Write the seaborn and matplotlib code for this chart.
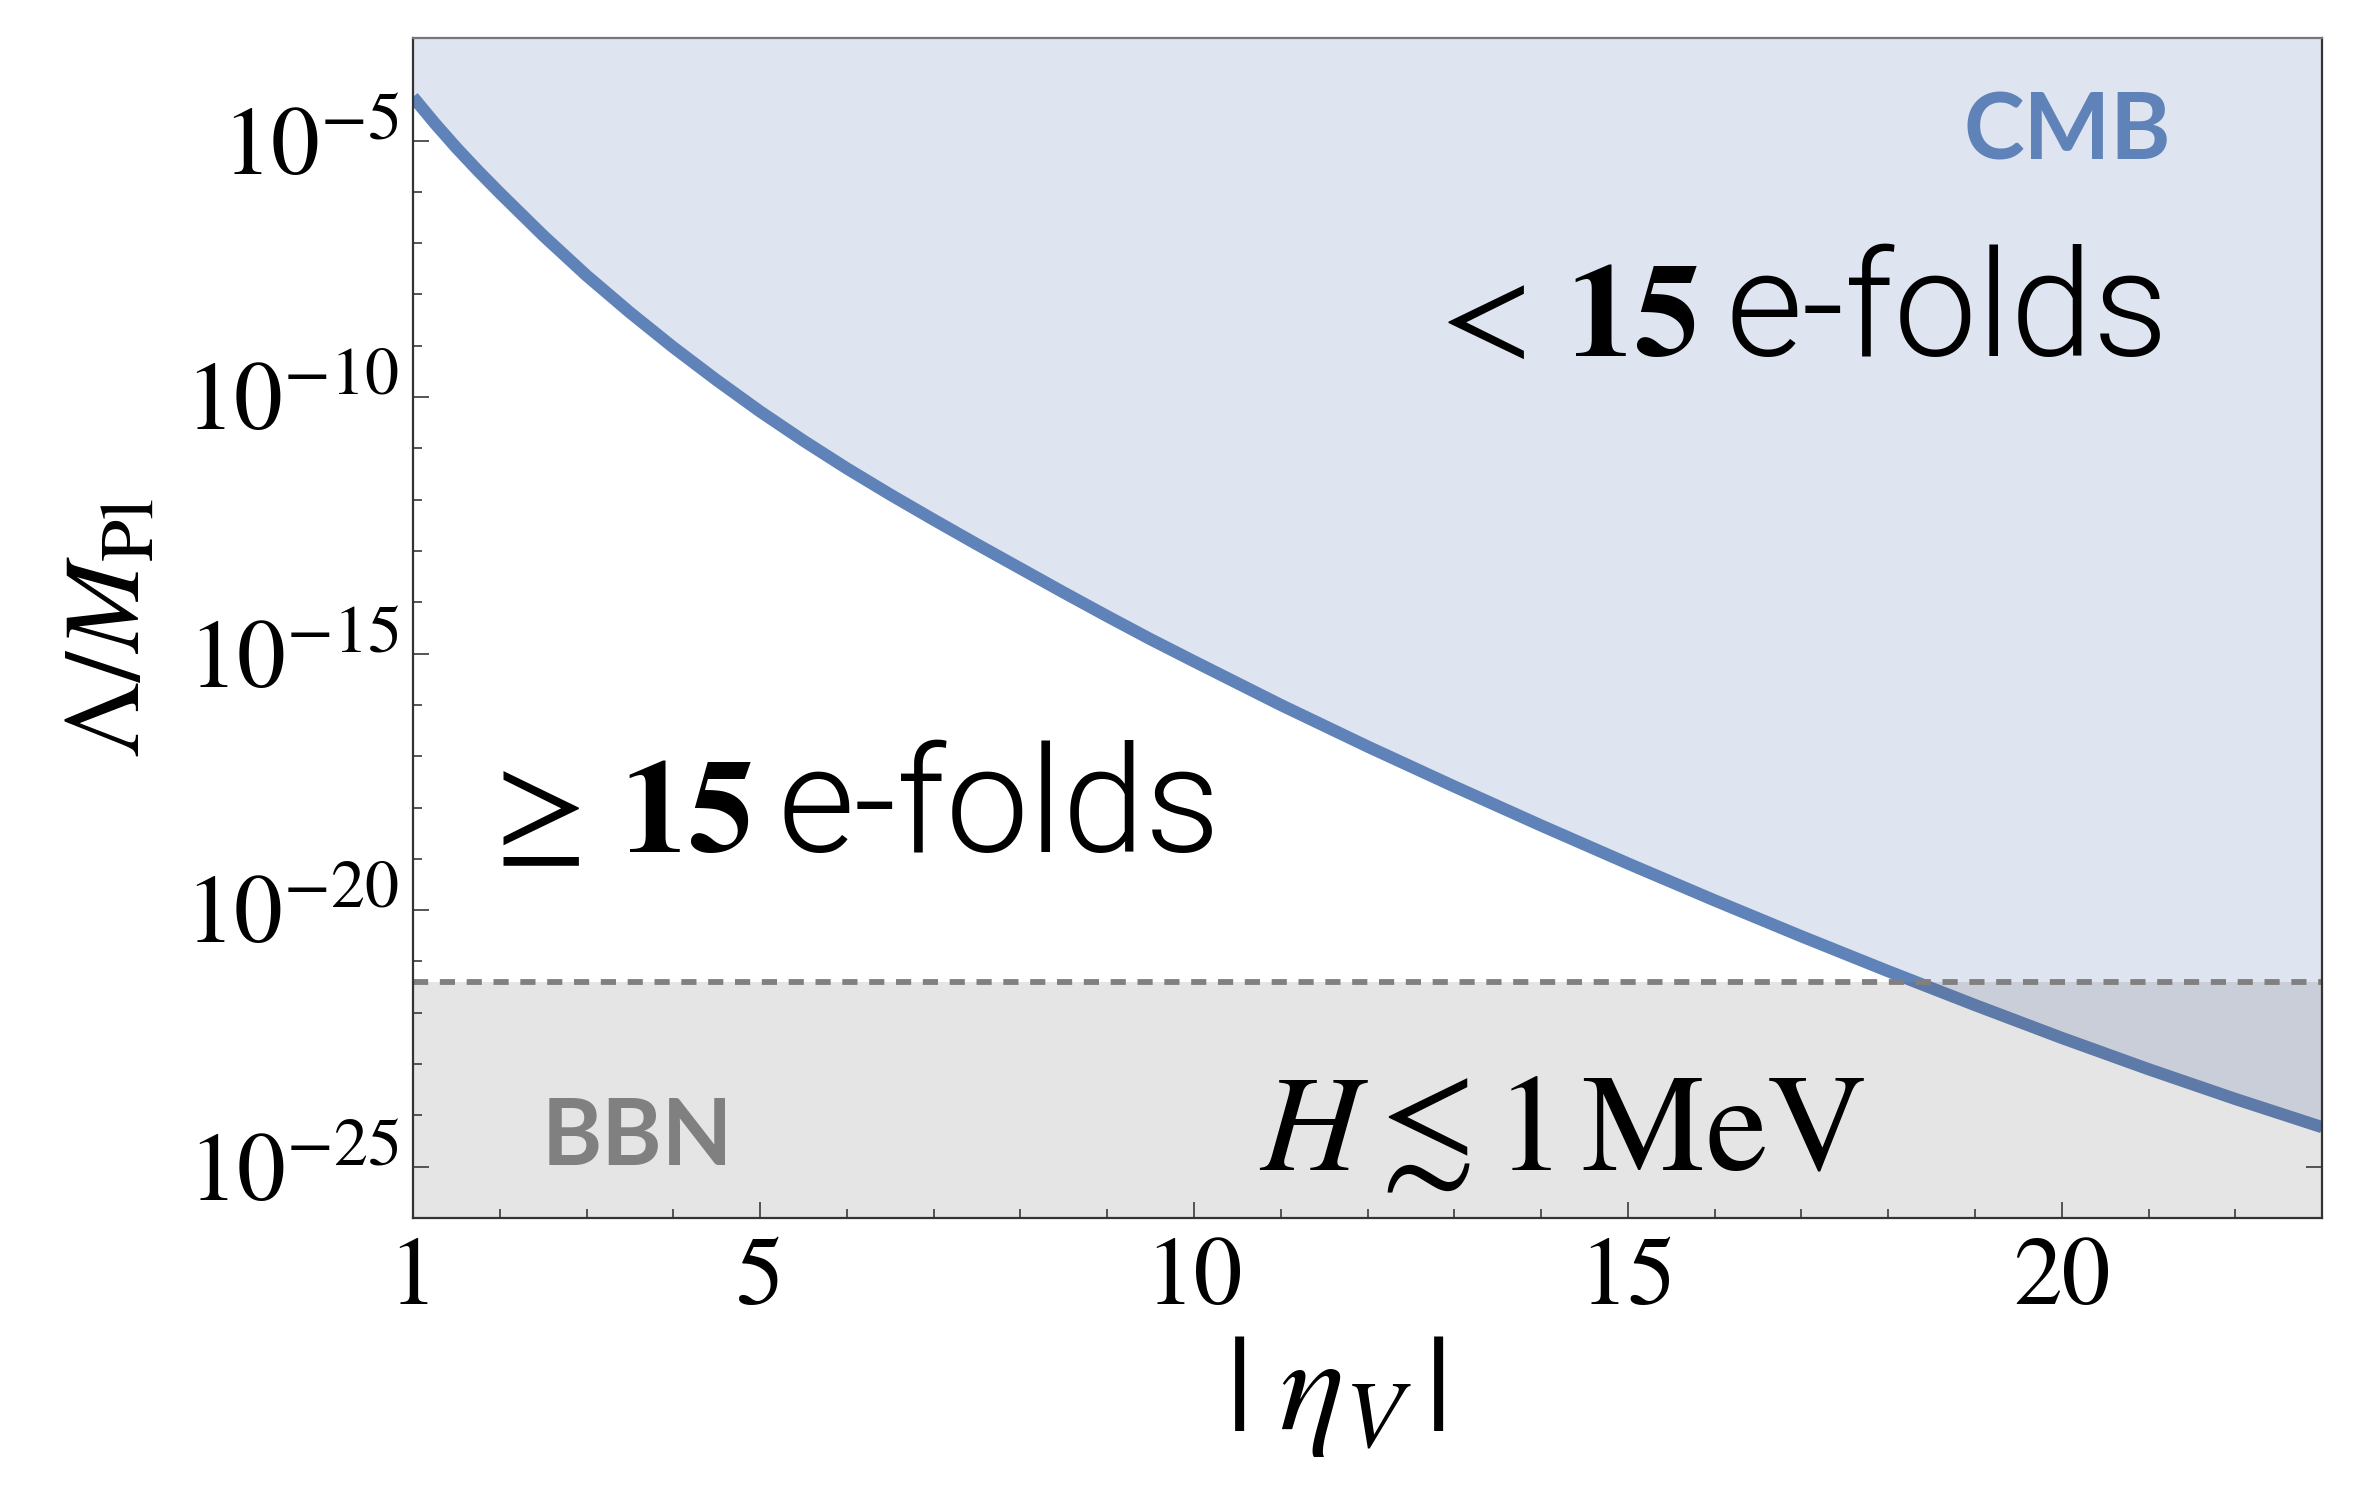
import numpy as np
import pandas as pd
import matplotlib
matplotlib.use("Agg")
import matplotlib.pyplot as plt
import seaborn as sns
from matplotlib.ticker import FixedLocator, NullFormatter

# ---- data ----
eta_v = [1, 1.25, 1.5, 1.75, 2, 2.5, 3, 3.5, 4, 4.5, 5, 5.5, 6, 6.5, 7, 7.5, 8, 8.5, 9,
         9.5, 10, 11, 12, 13, 14, 15, 16, 17, 18, 19, 20, 21, 22, 23]
log10_lambda = [-4.15, -4.66, -5.14, -5.59, -6.02, -6.85, -7.63, -8.35, -9.03, -9.67,
                -10.28, -10.85, -11.39, -11.90, -12.39, -12.87, -13.34, -13.81, -14.27,
                -14.72, -15.15, -16.00, -16.81, -17.59, -18.35, -19.09, -19.81, -20.51,
                -21.19, -21.85, -22.49, -23.10, -23.68, -24.23]
bbn_log10 = -21.4
x_major = [1, 5, 10, 15, 20]
x_minor = list(range(1, 24))
y_major_exp = [-25, -20, -15, -10, -5]
y_minor_exp = list(range(-26, -2))

df = pd.DataFrame({"eta": eta_v, "lam": 10.0 ** np.array(log10_lambda)})

sns.set_theme(style="white")
plt.rcParams["mathtext.fontset"] = "stix"
plt.rcParams["font.family"] = ["STIXGeneral", "DejaVu Serif"]
for k in ["text.color", "axes.labelcolor", "xtick.color", "ytick.color"]:
    plt.rcParams[k] = "black"

fig = plt.figure(figsize=(23.57, 15), dpi=100)
ax = fig.add_axes([0.1752, 0.188, 0.8100, 0.7867])

ymin, ymax = 1e-26, 1e-3
xmin, xmax = 1, 23

blue_fill = "#DEE4F0"
blue_line = "#5F82B8"

ax.fill_between(df["eta"], df["lam"], ymax, color=blue_fill, lw=0, zorder=1)
sns.lineplot(data=df, x="eta", y="lam", ax=ax, color=blue_line, lw=8.8, zorder=2,
             solid_capstyle="butt")
ax.axhspan(ymin, 10 ** bbn_log10, color="#525252", alpha=0.15, lw=0, zorder=3)
ax.axhline(10 ** bbn_log10, color="#808080", lw=4.2, dashes=(2.6, 2.0), zorder=4)

ax.set_yscale("log")
ax.set_xlim(xmin, xmax)
ax.set_ylim(ymin, ymax)

ax.xaxis.set_major_locator(FixedLocator(x_major))
ax.xaxis.set_minor_locator(FixedLocator(x_minor))
ax.set_xticklabels([str(v) for v in x_major])
ax.yaxis.set_major_locator(FixedLocator([10.0 ** e for e in y_major_exp]))
ax.yaxis.set_minor_locator(FixedLocator([10.0 ** e for e in y_minor_exp]))
ax.set_yticklabels([r"$10^{%d}$" % e for e in y_major_exp])
ax.yaxis.set_minor_formatter(NullFormatter())

ax.tick_params(axis="both", which="both", direction="in", top=True, right=True,
               bottom=True, left=True, color="#555555", width=1.4)
ax.tick_params(axis="both", which="major", length=11.5, labelsize=70)
ax.tick_params(axis="both", which="minor", length=6.5)
ax.tick_params(axis="x", which="major", pad=14)
ax.tick_params(axis="y", which="major", pad=10)

for side in ["left", "right", "top", "bottom"]:
    ax.spines[side].set_color("#333333")
    ax.spines[side].set_linewidth(1.6)
    ax.spines[side].set_zorder(6)
ax.spines["top"].set_color("#777777")

ax.set_xlabel(r"$|\;\eta_{V}\,|$", fontsize=98)
ax.xaxis.set_label_coords(0.483, -0.098)
ax.set_ylabel(r"$\Lambda/M_{\rm Pl}$", fontsize=78, labelpad=16)

# ---- annotations ----
efold_font = dict(family=["Roboto", "Open Sans", "DejaVu Sans"], fontweight=300)
ax.text(20.06, 10 ** -5.36, "CMB", color=blue_line, fontsize=66, fontweight="bold",
        family=["Lato", "DejaVu Sans"], ha="center", va="baseline", zorder=7)
ax.text(15.81, 10 ** -9.2, r"$<\,\mathbf{15}$", fontsize=96, ha="right", va="baseline", zorder=7)
ax.text(16.12, 10 ** -9.2, "e-folds", fontsize=107, ha="left", va="baseline", zorder=7,
        **efold_font)
ax.text(4.91, 10 ** -18.87, r"$\geq\,\mathbf{15}$", fontsize=96, ha="right", va="baseline", zorder=7)
ax.text(5.20, 10 ** -18.87, "e-folds", fontsize=107, ha="left", va="baseline", zorder=7,
        **efold_font)
ax.text(3.59, 10 ** -24.97, "BBN", color="#808080", fontsize=66, fontweight="bold",
        family=["Lato", "DejaVu Sans"], ha="center", va="baseline", zorder=7)
ax.text(14.24, 10 ** -25.07, r"$H\lesssim 1\,\mathrm{MeV}$", fontsize=100,
        ha="center", va="baseline", zorder=7)

fig.savefig("out.png", dpi=100)
